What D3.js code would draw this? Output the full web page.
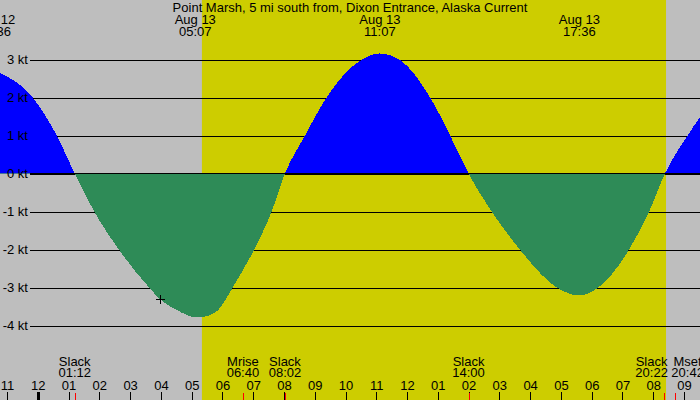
<!DOCTYPE html>
<html><head><meta charset="utf-8">
<script src="https://cdn.jsdelivr.net/npm/d3@7"></script>
<style>
html,body{margin:0;padding:0;background:#bebebe;}
svg{display:block;}
text{font-family:"Liberation Sans",Arial,sans-serif;font-size:13px;fill:#000;}
</style>
</head><body>
<svg id="c" width="700" height="400"></svg>
<script>
const title = "Point Marsh, 5 mi south from, Dixon Entrance, Alaska Current";
const viewWindow = ["08-12 22:46:17", "08-13 21:31:15"];
const daylight = ["08-13 05:20", "08-13 20:25"];
const flowTimes = ["08-12 22:36","08-12 23:50","08-13 00:37","08-13 01:12","08-13 01:50","08-13 02:38","08-13 03:37","08-13 04:00","08-13 04:31","08-13 04:50","08-13 05:12","08-13 05:37","08-13 05:52","08-13 06:07","08-13 06:20","08-13 07:02","08-13 07:36","08-13 08:02","08-13 08:41","08-13 09:23","08-13 10:32","08-13 11:07","08-13 11:45","08-13 12:45","08-13 13:24","08-13 14:00","08-13 14:45","08-13 15:40","08-13 16:52","08-13 17:36","08-13 18:13","08-13 19:13","08-13 19:52","08-13 20:23","08-13 21:07","08-13 21:32"];
const flowKnots = [2.70,2.0,1.0,0,-1.0,-2.0,-3.0,-3.33,-3.59,-3.72,-3.79,-3.72,-3.59,-3.30,-3.0,-2.0,-1.0,0,1.0,2.0,3.0,3.16,3.0,2.0,1.0,0,-1.0,-2.0,-3.0,-3.21,-3.0,-2.0,-1.0,0,1.0,1.5];
const speedTicks = [-4,-3,-2,-1,0,1,2,3];
const extremeTimes = ["08-12 22:36","08-13 05:07","08-13 11:07","08-13 17:36"];
const extremeDates = ["Aug 12","Aug 13","Aug 13","Aug 13"];
const eventNames = ["Slack","Mrise","Slack","Slack","Slack","Mset"];
const eventTimes = ["08-13 01:12","08-13 06:40","08-13 08:02","08-13 14:00","08-13 20:22","08-13 20:42"];
const markerTime = "08-13 03:59";
const markerKnots = -3.29;

const p1 = d3.timeParse("%m-%d %H:%M:%S"), p2 = d3.timeParse("%m-%d %H:%M");
const parse = s => p1(s) || p2(s);
const fmtHM = d3.timeFormat("%H:%M");

const W = 700, H = 400;
const svg = d3.select("#c");
const x = d3.scaleTime().domain(viewWindow.map(parse)).range([0, W]);
const y = d3.scaleLinear().domain([-4, 3]).range([325.5, 59.5]);

// background
svg.append("rect").attr("width", W).attr("height", H).attr("fill", "#bebebe");
const dl = daylight.map(parse);
svg.append("rect").attr("x", x(dl[0])).attr("y", 0)
  .attr("width", x(dl[1]) - x(dl[0])).attr("height", H).attr("fill", "#cdcd00");

// grid lines (under the fills)
const gridAxis = d3.axisLeft(y).tickValues(speedTicks).tickSize(-(W - 30)).tickFormat("");
svg.append("g").attr("transform", "translate(30,0)").call(gridAxis)
  .call(g => g.select(".domain").remove())
  .call(g => g.selectAll("line").attr("stroke", "#000").attr("shape-rendering", "crispEdges"));

// flow area
const data = flowTimes.map((t, i) => ({t: parse(t), v: flowKnots[i]}));
const area = d3.area().x(d => x(d.t)).y0(y(0)).y1(d => y(d.v)).curve(d3.curveMonotoneX);
const defs = svg.append("defs");
defs.append("clipPath").attr("id", "above").append("rect")
  .attr("x", 0).attr("y", 0).attr("width", W).attr("height", y(0));
defs.append("clipPath").attr("id", "below").append("rect")
  .attr("x", 0).attr("y", y(0)).attr("width", W).attr("height", H - y(0));
svg.append("path").datum(data).attr("d", area).attr("fill", "#0000ff")
  .attr("clip-path", "url(#above)").attr("shape-rendering", "crispEdges");
svg.append("path").datum(data).attr("d", area).attr("fill", "#2e8b57")
  .attr("clip-path", "url(#below)").attr("shape-rendering", "crispEdges");

// zero line on top
svg.append("line").attr("x1", 30).attr("x2", W).attr("y1", y(0)).attr("y2", y(0))
  .attr("stroke", "#000").attr("shape-rendering", "crispEdges");

// y labels
const labelAxis = d3.axisLeft(y).tickValues(speedTicks).tickSize(0).tickPadding(2)
  .tickFormat(d => d + " kt");
svg.append("g").attr("transform", "translate(30,0)").call(labelAxis)
  .call(g => g.select(".domain").remove())
  .call(g => g.selectAll("text").attr("font-family", "Liberation Sans, Arial, sans-serif")
    .attr("font-size", 13).attr("fill", "#000"));

// marker
const mx = Math.round(x(parse(markerTime))) + 0.5, my = Math.round(y(markerKnots)) + 0.5;
svg.append("path").attr("d", `M${mx - 4.5},${my}H${mx + 4.5}M${mx},${my - 4.5}V${my + 4.5}`)
  .attr("stroke", "#000").attr("shape-rendering", "crispEdges");

// title
svg.append("text").attr("x", W / 2).attr("y", 12).attr("text-anchor", "middle").text(title);

// extreme labels
const topG = svg.append("g");
extremeTimes.forEach((t, i) => {
  const d = parse(t);
  topG.append("text").attr("x", x(d)).attr("y", 24).attr("text-anchor", "middle").text(extremeDates[i]);
  topG.append("text").attr("x", x(d)).attr("y", 36).attr("text-anchor", "middle").text(fmtHM(d));
});

// hour axis
const hourAxis = d3.axisTop(x).ticks(d3.timeHour.every(1)).tickSize(8).tickPadding(2)
  .tickFormat(d3.timeFormat("%I"));
svg.append("g").attr("transform", `translate(0,${H})`).call(hourAxis)
  .call(g => g.select(".domain").remove())
  .call(g => g.selectAll("line").attr("stroke", "#000").attr("shape-rendering", "crispEdges")
    .attr("stroke-width", d => d.getHours() === 0 ? 3 : 1))
  .call(g => g.selectAll("text").attr("font-family", "Liberation Sans, Arial, sans-serif")
    .attr("font-size", 13).attr("fill", "#000"));

// events
const ev = eventTimes.map((t, i) => ({d: parse(t), name: eventNames[i]}));
ev.forEach(e => { e.cx = x(e.d); e.w = 33; });
for (let i = 1; i < ev.length; i++) {
  const a = ev[i - 1], b = ev[i];
  const need = (a.w + b.w) / 2 + 3;
  const gap = b.cx - a.cx;
  if (gap < need) { const s = (need - gap) / 2; a.cx -= s; b.cx += s; }
}
const evg = svg.append("g");
ev.forEach(e => {
  evg.append("line").attr("x1", Math.round(x(e.d)) + 0.5).attr("x2", Math.round(x(e.d)) + 0.5)
    .attr("y1", 393).attr("y2", H).attr("stroke", "#ff0000").attr("shape-rendering", "crispEdges");
  evg.append("text").attr("x", e.cx).attr("y", 366).attr("text-anchor", "middle").text(e.name);
  evg.append("text").attr("x", e.cx).attr("y", 377).attr("text-anchor", "middle").text(fmtHM(e.d));
});
</script>
</body></html>
